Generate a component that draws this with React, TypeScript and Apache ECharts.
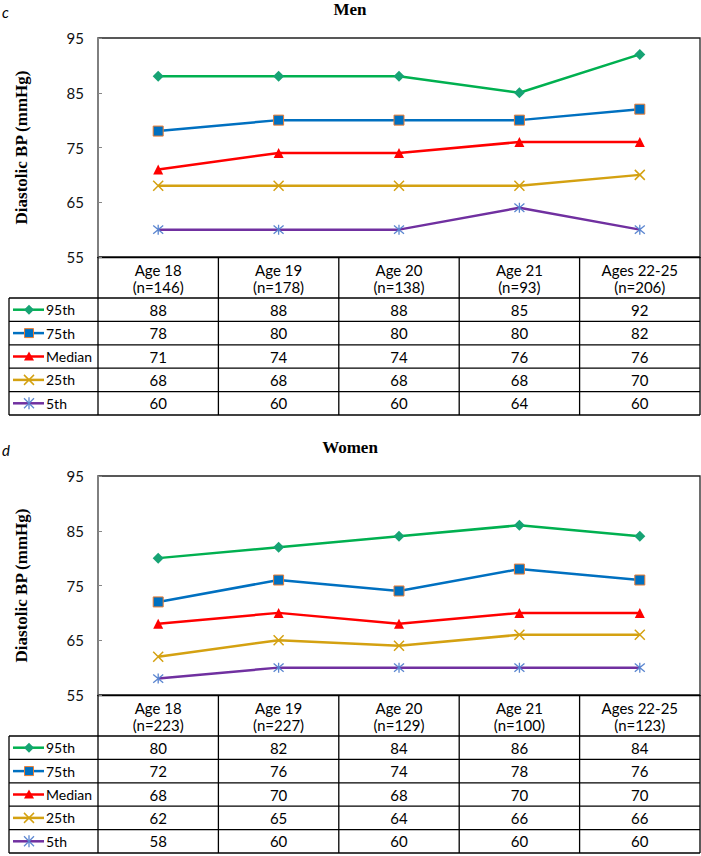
import React, { useEffect, useRef } from "react";
import * as echarts from "echarts";

// ---------- DATA ----------
const seriesNames = ["95th", "75th", "Median", "25th", "5th"];
const ageGroups = ["Age 18", "Age 19", "Age 20", "Age 21", "Ages 22-25"];
const menCounts = [146, 178, 138, 93, 206];
const womenCounts = [223, 227, 129, 100, 123];

const men95 = [88, 88, 88, 85, 92];
const men75 = [78, 80, 80, 80, 82];
const menMedian = [71, 74, 74, 76, 76];
const men25 = [68, 68, 68, 68, 70];
const men5 = [60, 60, 60, 64, 60];

const women95 = [80, 82, 84, 86, 84];
const women75 = [72, 76, 74, 78, 76];
const womenMedian = [68, 70, 68, 70, 70];
const women25 = [62, 65, 64, 66, 66];
const women5 = [58, 60, 60, 60, 60];

const yTicks = [55, 65, 75, 85, 95];

const menData = [men95, men75, menMedian, men25, men5];
const womenData = [women95, women75, womenMedian, women25, women5];

// ---------- STYLES / LAYOUT ----------
const FONT = "Lato, 'Open Sans', sans-serif";
const SERIF = "'Liberation Serif', 'DejaVu Serif', serif";
const GOLD = "#D4A111";
const STAR = "#5B86D0";

const styles = [
  { line: "#00B050", symbol: "diamond", size: 11, item: { color: "#16A374" } },
  { line: "#0070C0", symbol: "rect", size: 10, item: { color: "#0070C0", borderColor: "#ED7D31", borderWidth: 1 } },
  { line: "#FF0000", symbol: "triangle", size: 10, item: { color: "#FF0000" } },
  { line: GOLD, symbol: "path://M0,0L10,10M10,0L0,10", size: 10, item: { color: "none", borderColor: GOLD, borderWidth: 1.5 } },
  { line: "#7030A0", symbol: "path://M0,0L10,10M10,0L0,10M5,-1L5,11", size: 10, item: { color: "none", borderColor: STAR, borderWidth: 1.3 } },
];

const GL = 98; // grid left
const GR = 700; // grid right edge
const GT = 38; // grid top
const GH = 219; // grid height
const HEADER_H = 41;
const ROW_H = 23.4;
const LEG_L = 9;
const PANEL_OFF = 438;
const FS = 15;

function tableGraphics(oy: number, data: number[][]) {
  const els: any[] = [];
  const colW = (GR - GL) / ageGroups.length;
  const top = GT + GH + oy;
  const rowsTop = top + HEADER_H;
  const bottom = rowsTop + ROW_H * seriesNames.length;
  const stroke = { stroke: "#000", lineWidth: 1.3 };
  for (let k = 0; k <= seriesNames.length; k++) {
    const y = rowsTop + k * ROW_H;
    els.push({ type: "line", shape: { x1: LEG_L, y1: y, x2: GR, y2: y }, style: stroke, z: 10 });
  }
  els.push({ type: "line", shape: { x1: LEG_L, y1: rowsTop, x2: LEG_L, y2: bottom }, style: stroke, z: 10 });
  for (let i = 0; i <= ageGroups.length; i++) {
    const x = GL + i * colW;
    els.push({ type: "line", shape: { x1: x, y1: top, x2: x, y2: bottom }, style: stroke, z: 10 });
  }
  data.forEach((vals, r) => {
    const cy = rowsTop + (r + 0.5) * ROW_H;
    vals.forEach((v, i) => {
      els.push({
        type: "text",
        x: GL + (i + 0.5) * colW,
        y: cy,
        style: { text: String(v), font: `${FS}px ${FONT}`, fill: "#000", align: "center", verticalAlign: "middle" },
        z: 10,
      });
    });
    const st = styles[r];
    const mx = 29;
    els.push({ type: "line", shape: { x1: 13, y1: cy, x2: 44, y2: cy }, style: { stroke: st.line, lineWidth: 2.5 }, z: 10 });
    if (r === 0) {
      els.push({ type: "polygon", shape: { points: [[mx, cy - 5], [mx + 5, cy], [mx, cy + 5], [mx - 5, cy]] }, style: { fill: st.item.color }, z: 11 });
    } else if (r === 1) {
      els.push({ type: "rect", shape: { x: mx - 4.5, y: cy - 4.5, width: 9, height: 9 }, style: { fill: "#0070C0", stroke: "#ED7D31", lineWidth: 1 }, z: 11 });
    } else if (r === 2) {
      els.push({ type: "polygon", shape: { points: [[mx, cy - 5], [mx + 5, cy + 4], [mx - 5, cy + 4]] }, style: { fill: "#FF0000" }, z: 11 });
    } else if (r === 3) {
      els.push({ type: "line", shape: { x1: mx - 5, y1: cy - 5, x2: mx + 5, y2: cy + 5 }, style: { stroke: GOLD, lineWidth: 1.5 }, z: 11 });
      els.push({ type: "line", shape: { x1: mx - 5, y1: cy + 5, x2: mx + 5, y2: cy - 5 }, style: { stroke: GOLD, lineWidth: 1.5 }, z: 11 });
    } else {
      els.push({ type: "line", shape: { x1: mx - 5, y1: cy - 5, x2: mx + 5, y2: cy + 5 }, style: { stroke: STAR, lineWidth: 1.3 }, z: 11 });
      els.push({ type: "line", shape: { x1: mx - 5, y1: cy + 5, x2: mx + 5, y2: cy - 5 }, style: { stroke: STAR, lineWidth: 1.3 }, z: 11 });
      els.push({ type: "line", shape: { x1: mx, y1: cy - 6, x2: mx, y2: cy + 6 }, style: { stroke: STAR, lineWidth: 1.3 }, z: 11 });
    }
    els.push({
      type: "text",
      x: 46,
      y: cy,
      style: { text: seriesNames[r], font: `14px ${FONT}`, fill: "#000", align: "left", verticalAlign: "middle" },
      z: 10,
    });
  });
  return els;
}

function panelTexts(oy: number, letter: string, title: string) {
  return [
    { type: "text", x: 2, y: 12 + oy, style: { text: letter, font: `italic 15px ${FONT}`, fill: "#000", align: "left", verticalAlign: "middle" } },
    { type: "text", x: 350, y: 9 + oy, style: { text: title, font: `bold 17px ${SERIF}`, fill: "#000", align: "center", verticalAlign: "middle" } },
    {
      type: "text",
      x: 21,
      y: GT + GH / 2 + oy,
      rotation: Math.PI / 2,
      style: { text: "Diastolic BP (mmHg)", font: `bold 17px ${SERIF}`, fill: "#000", align: "center", verticalAlign: "middle" },
    },
  ];
}

function buildSeries(data: number[][], axisIndex: number) {
  return data.map((vals, r) => {
    const st = styles[r];
    return {
      name: seriesNames[r],
      type: "line",
      xAxisIndex: axisIndex,
      yAxisIndex: axisIndex,
      data: vals,
      symbol: st.symbol,
      symbolSize: st.size,
      showSymbol: true,
      lineStyle: { color: st.line, width: 2.5 },
      itemStyle: st.item,
      z: 5 - r,
    };
  });
}

export default function App() {
  const ref = useRef<HTMLDivElement>(null);
  useEffect(() => {
    document.body.style.margin = "0";
    if (!ref.current) return;
    const chart = echarts.init(ref.current, undefined, { renderer: "svg" });
    const catsMen = ageGroups.map((a, i) => `${a}\n(n=${menCounts[i]})`);
    const catsWomen = ageGroups.map((a, i) => `${a}\n(n=${womenCounts[i]})`);
    const mkX = (cats: string[], gi: number) => ({
      type: "category",
      gridIndex: gi,
      data: cats,
      boundaryGap: true,
      axisLine: { show: true, lineStyle: { color: "#000", width: 1.3 } },
      axisTick: { show: false },
      axisLabel: { show: true, interval: 0, margin: 4, fontFamily: FONT, fontSize: FS, color: "#000", lineHeight: 17 },
    });
    const mkY = (gi: number) => ({
      type: "value",
      gridIndex: gi,
      min: 55,
      max: 95,
      interval: 10,
      axisLine: { show: true, lineStyle: { color: "#868686", width: 1.5 } },
      axisTick: { show: true, inside: true, length: 4, lineStyle: { color: "#868686" } },
      splitLine: { show: false },
      axisLabel: {
        margin: 14,
        fontFamily: FONT,
        fontSize: FS,
        color: "#111",
        formatter: (v: number) => (yTicks.includes(v) ? String(v) : ""),
      },
    });
    chart.setOption({
      animation: false,
      backgroundColor: "#fff",
      grid: [
        { left: GL, top: GT, width: GR - GL, height: GH, show: true, borderColor: "#222", borderWidth: 1.3, containLabel: false },
        { left: GL, top: GT + PANEL_OFF, width: GR - GL, height: GH, show: true, borderColor: "#222", borderWidth: 1.3, containLabel: false },
      ],
      xAxis: [mkX(catsMen, 0), mkX(catsWomen, 1)],
      yAxis: [mkY(0), mkY(1)],
      series: [...buildSeries(menData, 0), ...buildSeries(womenData, 1)],
      graphic: [
        ...panelTexts(0, "c", "Men"),
        ...panelTexts(PANEL_OFF, "d", "Women"),
        ...tableGraphics(0, menData),
        ...tableGraphics(PANEL_OFF, womenData),
      ],
    });
    return () => chart.dispose();
  }, []);
  return <div ref={ref} style={{ width: 701, height: 856 }} />;
}
